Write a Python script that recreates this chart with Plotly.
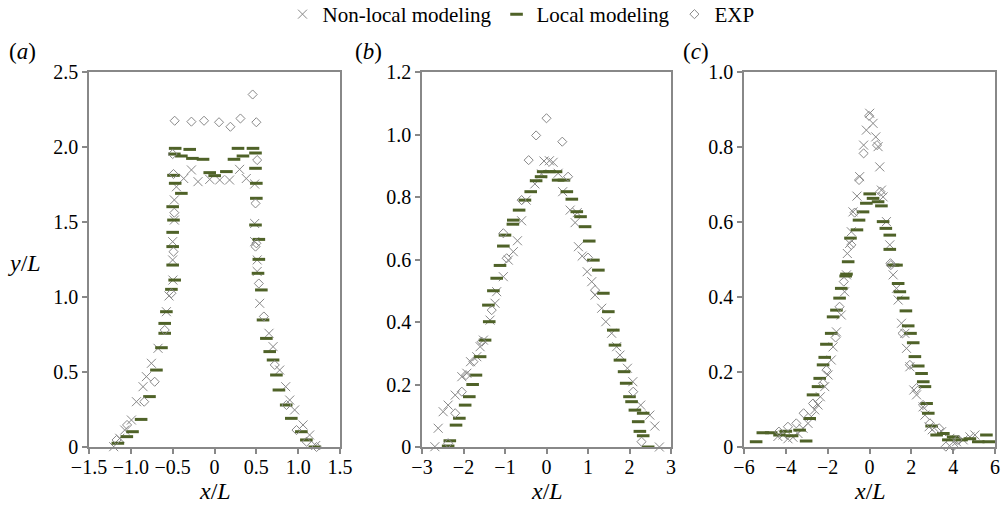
import plotly.graph_objects as go

# ---- Panel (a) ----
a_nonlocal_x = [-1.205, -1.132, -1.073, -0.993, -0.933, -0.854, -0.814, -0.754, -0.675, -0.575,
                -0.544, -0.497, -0.50, -0.50, -0.48, -0.48, -0.455, -0.368, -0.276, -0.197,
                -0.057, 0.062, 0.18, 0.30, 0.38, 0.48, 0.48, 0.48, 0.51, 0.51,
                0.54, 0.651, 0.70, 0.779, 0.851, 0.899, 0.958, 1.058, 1.137, 1.21]
a_nonlocal_y = [0.002, 0.058, 0.113, 0.18, 0.302, 0.402, 0.469, 0.558, 0.658, 0.902,
                1.007, 1.113, 1.247, 1.369, 1.513, 1.647, 1.735, 1.79, 1.847, 1.769,
                1.784, 1.78, 1.78, 1.851, 1.79, 1.753, 1.49, 1.369, 1.247, 1.17,
                0.958, 0.758, 0.669, 0.513, 0.402, 0.313, 0.247, 0.147, 0.08, 0.01]

a_local_x = [-1.155, -1.048, -0.98, -0.877, -0.777, -0.694, -0.634, -0.595, -0.595, -0.575,
             -0.515, -0.476, -0.50, -0.50, -0.50, -0.49, -0.50, -0.396, -0.47, -0.49,
             -0.48, -0.47, -0.396, -0.296, -0.264, -0.137, -0.057, 0.002, 0.142, 0.233,
             0.281, 0.34, 0.46, 0.49, 0.49, 0.50, 0.50, 0.49, 0.53, 0.53,
             0.52, 0.56, 0.58, 0.62, 0.66, 0.70, 0.74, 0.77, 0.857, 0.918,
             1.038, 1.098, 1.20]
a_local_y = [0.025, 0.069, 0.102, 0.184, 0.336, 0.513, 0.662, 0.758, 0.824, 0.902,
             1.051, 1.113, 1.213, 1.336, 1.431, 1.513, 1.602, 1.691, 1.758, 1.811,
             1.953, 1.991, 1.94, 1.984, 1.924, 1.918, 1.829, 1.809, 1.836, 1.918,
             1.991, 1.94, 1.991, 1.96, 1.858, 1.758, 1.658, 1.48, 1.384, 1.251,
             1.158, 1.047, 0.847, 0.724, 0.636, 0.58, 0.48, 0.38, 0.28, 0.191,
             0.102, 0.047, 0.0]

a_exp_x = [-1.17, -1.045, -0.84, -0.715, -0.595, -0.515, -0.49, -0.48, -0.49, -0.50,
           -0.476, -0.276, -0.125, 0.054, 0.19, 0.31, 0.456, 0.50, 0.51, 0.49,
           0.50, 0.49, 0.53, 0.59, 0.72, 0.86, 0.98, 1.10, 1.22]
a_exp_y = [0.047, 0.147, 0.302, 0.435, 0.78, 1.025, 1.302, 1.562, 1.82, 1.953,
           2.175, 2.169, 2.175, 2.165, 2.135, 2.19, 2.35, 2.165, 1.913, 1.624,
           1.358, 1.336, 1.09, 0.87, 0.547, 0.28, 0.113, 0.035, 0.0]

# ---- Panel (b) ----
b_nonlocal_x = [-2.69, -2.61, -2.49, -2.37, -2.2, -2.04, -1.92, -1.83, -1.68, -1.6,
                -1.52, -1.36, -1.24, -1.2, -1.04, -0.92, -0.8, -0.7, -0.6, -0.49,
                -0.28, -0.12, -0.06, 0.07, 0.16, 0.28, 0.39, 0.57, 0.74, 0.69,
                0.77, 0.86, 0.98, 1.09, 1.17, 1.33, 1.43, 1.57, 1.69, 1.77,
                1.95, 2.08, 2.27, 2.49, 2.61, 2.72]
b_nonlocal_y = [0.001, 0.06, 0.113, 0.134, 0.166, 0.225, 0.236, 0.273, 0.289, 0.321,
                0.342, 0.406, 0.46, 0.497, 0.545, 0.598, 0.625, 0.66, 0.724, 0.79,
                0.842, 0.874, 0.915, 0.916, 0.911, 0.876, 0.817, 0.758, 0.75, 0.718,
                0.641, 0.611, 0.561, 0.529, 0.486, 0.444, 0.401, 0.364, 0.321, 0.294,
                0.252, 0.209, 0.134, 0.102, 0.067, 0.0]

b_local_x = [-2.37, -2.33, -2.18, -2.1, -1.96, -1.86, -1.78, -1.70, -1.6, -1.48,
             -1.38, -1.40, -1.28, -1.2, -1.12, -1.04, -1.0, -0.81, -0.8, -0.66,
             -0.52, -0.38, -0.25, -0.13, -0.08, 0.07, 0.23, 0.28, 0.42, 0.49,
             0.61, 0.73, 0.82, 0.93, 1.03, 1.13, 1.25, 1.37, 1.49, 1.61,
             1.65, 1.77, 1.87, 1.92, 2.0, 2.05, 2.13, 2.21, 2.25, 2.33,
             2.33, 2.45]
b_local_y = [0.003, 0.02, 0.07, 0.092, 0.134, 0.161, 0.2, 0.23, 0.289, 0.342,
             0.401, 0.454, 0.5, 0.54, 0.581, 0.643, 0.678, 0.713, 0.726, 0.758,
             0.79, 0.817, 0.852, 0.865, 0.881, 0.881, 0.881, 0.854, 0.854, 0.817,
             0.793, 0.753, 0.737, 0.705, 0.659, 0.598, 0.566, 0.492, 0.433, 0.374,
             0.326, 0.278, 0.241, 0.204, 0.161, 0.145, 0.118, 0.081, 0.05, 0.108,
             0.036, 0.0]

b_exp_x = [-2.37, -2.2, -2.04, -1.94, -1.76, -1.56, -1.32, -1.04, -0.96, -0.6,
           -0.43, -0.25, 0.0, 0.38, 0.52, 1.0, 1.17, 2.09, 2.29]
b_exp_y = [0.012, 0.108, 0.177, 0.23, 0.273, 0.337, 0.438, 0.684, 0.604, 0.79,
           0.918, 0.997, 1.052, 0.977, 0.865, 0.606, 0.502, 0.177, 0.017]

# ---- Panel (c) ----
c_nonlocal_x = [-4.38, -4.14, -3.9, -3.66, -3.42, -3.18, -2.94, -2.78, -2.62, -2.46,
                -2.35, -2.14, -1.98, -1.83, -1.74, -1.58, -1.35, -1.19, -1.1, -1.06,
                -0.95, -0.87, -0.79, -0.6, -0.47, -0.28, -0.15, 0.01, 0.17, 0.3,
                0.41, 0.49, 0.57, 0.65, 0.81, 0.97, 1.13, 1.29, 1.37, 1.53,
                1.69, 1.77, 1.93, 2.12, 2.25, 2.56, 2.65, 2.85, 3.0, 3.45,
                3.84, 4.16, 4.48, 4.8, 5.04]
c_nonlocal_y = [0.028, 0.032, 0.022, 0.026, 0.036, 0.05, 0.063, 0.081, 0.099, 0.112,
                0.134, 0.161, 0.192, 0.232, 0.267, 0.307, 0.352, 0.414, 0.459, 0.516,
                0.543, 0.574, 0.627, 0.669, 0.721, 0.805, 0.845, 0.89, 0.863, 0.827,
                0.801, 0.747, 0.685, 0.667, 0.601, 0.539, 0.459, 0.423, 0.392, 0.33,
                0.303, 0.263, 0.214, 0.152, 0.139, 0.107, 0.085, 0.054, 0.046, 0.041,
                0.023, 0.014, 0.019, 0.027, 0.032]

c_local_x = [-5.42, -5.1, -4.7, -4.3, -4.0, -3.7, -3.34, -3.03, -2.86, -2.7,
             -2.46, -2.38, -2.22, -2.14, -2.06, -1.83, -1.74, -1.58, -1.43, -1.35,
             -1.1, -1.02, -1.14, -0.91, -0.6, -0.5, -0.31, -0.15, 0.01, 0.17,
             0.41, 0.57, 0.65, 0.78, 0.97, 0.97, 1.13, 1.29, 1.37, 1.45,
             1.61, 1.74, 1.85, 1.96, 2.09, 2.17, 2.33, 2.49, 2.57, 2.65,
             2.73, 2.81, 2.97, 3.21, 3.53, 3.77, 4.0, 4.4, 4.8, 5.2,
             5.59, 5.7]
c_local_y = [0.014, 0.038, 0.038, 0.032, 0.042, 0.03, 0.045, 0.016, 0.076, 0.139,
             0.161, 0.183, 0.219, 0.239, 0.274, 0.303, 0.347, 0.365, 0.397, 0.423,
             0.461, 0.494, 0.456, 0.557, 0.579, 0.605, 0.627, 0.65, 0.675, 0.663,
             0.654, 0.643, 0.601, 0.583, 0.565, 0.527, 0.485, 0.485, 0.436, 0.414,
             0.397, 0.363, 0.323, 0.303, 0.278, 0.241, 0.216, 0.196, 0.174, 0.161,
             0.116, 0.09, 0.056, 0.032, 0.036, 0.019, 0.027, 0.019, 0.022, 0.014,
             0.032, 0.014]

c_exp_x = [-4.33, -3.9, -3.5, -3.15, -2.7, -2.22, -2.06, -1.62, -1.43, -1.23,
           -0.87, -0.71, -0.5, -0.28, -0.02, 0.36, 0.52, 1.0, 1.02, 1.58,
           1.93, 2.25, 2.56, 2.89, 3.33, 3.65, 4.0, 4.2]
c_exp_y = [0.041, 0.054, 0.063, 0.09, 0.116, 0.17, 0.205, 0.292, 0.374, 0.441,
           0.539, 0.625, 0.712, 0.783, 0.883, 0.805, 0.681, 0.49, 0.485, 0.303,
           0.219, 0.157, 0.112, 0.063, 0.05, 0.001, 0.001, 0.019]

# ---- Axis ticks ----
a_xticks = [-1.5, -1.0, -0.5, 0, 0.5, 1.0, 1.5]
a_xtext = ["\u22121.5", "\u22121.0", "\u22120.5", "0", "0.5", "1.0", "1.5"]
a_yticks = [0, 0.5, 1.0, 1.5, 2.0, 2.5]
a_ytext = ["0", "0.5", "1.0", "1.5", "2.0", "2.5"]
b_xticks = [-3, -2, -1, 0, 1, 2, 3]
b_xtext = ["\u22123", "\u22122", "\u22121", "0", "1", "2", "3"]
b_yticks = [0, 0.2, 0.4, 0.6, 0.8, 1.0, 1.2]
b_ytext = ["0", "0.2", "0.4", "0.6", "0.8", "1.0", "1.2"]
c_xticks = [-6, -4, -2, 0, 2, 4, 6]
c_xtext = ["\u22126", "\u22124", "\u22122", "0", "2", "4", "6"]
c_yticks = [0, 0.2, 0.4, 0.6, 0.8, 1.0]
c_ytext = ["0", "0.2", "0.4", "0.6", "0.8", "1.0"]

series_names = ["Non-local modeling", "Local modeling", "EXP"]

FONT = "Liberation Serif"
GRAY = "#888888"
GREEN = "#4f6228"
W, H = 1004, 507

styles = [
    dict(symbol="x-thin-open", size=9, color=GRAY, line=dict(color=GRAY, width=1)),
    dict(symbol="line-ew", size=9, color=GREEN, line=dict(color=GREEN, width=3)),
    dict(symbol="diamond-open", size=7, color=GRAY, line=dict(color=GRAY, width=1)),
]

panels = [
    ((a_nonlocal_x, a_nonlocal_y), (a_local_x, a_local_y), (a_exp_x, a_exp_y)),
    ((b_nonlocal_x, b_nonlocal_y), (b_local_x, b_local_y), (b_exp_x, b_exp_y)),
    ((c_nonlocal_x, c_nonlocal_y), (c_local_x, c_local_y), (c_exp_x, c_exp_y)),
]

fig = go.Figure()
for p, series in enumerate(panels):
    suffix = "" if p == 0 else str(p + 1)
    for s, (xs, ys) in enumerate(series):
        fig.add_trace(go.Scatter(
            x=xs, y=ys, mode="markers", name=series_names[s],
            marker=styles[s], showlegend=(p == 0), cliponaxis=False,
            xaxis="x" + suffix, yaxis="y" + suffix,
        ))

# Pixel geometry of the three plot frames
x_px = [(89, 340), (422, 671), (744, 995)]
y_px = (72, 447)
ydom = [1 - y_px[1] / H, 1 - y_px[0] / H]

ranges = [
    ((-1.5, 1.5), (0, 2.5), a_xticks, a_xtext, a_yticks, a_ytext),
    ((-3, 3), (0, 1.2), b_xticks, b_xtext, b_yticks, b_ytext),
    ((-6, 6), (0, 1.0), c_xticks, c_xtext, c_yticks, c_ytext),
]

axis_common = dict(
    showline=True, linecolor=GRAY, linewidth=1.6, mirror=True,
    ticks="outside", ticklen=5, tickcolor=GRAY, tickwidth=1.5,
    showgrid=False, zeroline=False, automargin=False,
    tickfont=dict(family=FONT, size=20, color="black"),
)

layout = {}
for p, (xr, yr, xt, xtt, yt, ytt) in enumerate(ranges):
    suffix = "" if p == 0 else str(p + 1)
    layout["xaxis" + suffix] = dict(
        domain=[x_px[p][0] / W, x_px[p][1] / W], range=list(xr),
        tickvals=xt, ticktext=xtt, anchor="y" + suffix,
        ticklabelstandoff=-4, **axis_common)
    layout["yaxis" + suffix] = dict(
        domain=ydom, range=list(yr),
        tickvals=yt, ticktext=ytt, anchor="x" + suffix, **axis_common)

annotations = []
for p, letter in enumerate(["a", "b", "c"]):
    annotations.append(dict(
        text="(<i>%s</i>)" % letter, x=[22, 368, 696][p] / W, y=1 - 52 / H,
        xanchor="center", yanchor="middle",
        xref="paper", yref="paper", showarrow=False,
        font=dict(family=FONT, size=23, color="black")))
    cx = (x_px[p][0] + x_px[p][1]) / 2
    annotations.append(dict(
        text="<i>x</i>/<i>L</i>", x=cx / W, y=1 - 491 / H,
        xanchor="center", yanchor="middle",
        xref="paper", yref="paper", showarrow=False,
        font=dict(family=FONT, size=24, color="black")))
annotations.append(dict(
    text="<i>y</i>/<i>L</i>", x=24 / W, y=1 - 263 / H,
    xanchor="center", yanchor="middle",
    xref="paper", yref="paper", showarrow=False,
    font=dict(family=FONT, size=24, color="black")))

fig.update_layout(
    width=W, height=H,
    margin=dict(l=0, r=0, t=0, b=0, pad=0, autoexpand=False),
    paper_bgcolor="white", plot_bgcolor="white",
    showlegend=True,
    legend=dict(
        orientation="h", x=521 / W, xanchor="center", y=1 + 6 / H, yanchor="top",
        font=dict(family=FONT, size=21, color="black"),
        itemwidth=30, tracegroupgap=0, bgcolor="rgba(0,0,0,0)",
    ),
    annotations=annotations,
    **layout,
)

fig.write_html("out.html")
